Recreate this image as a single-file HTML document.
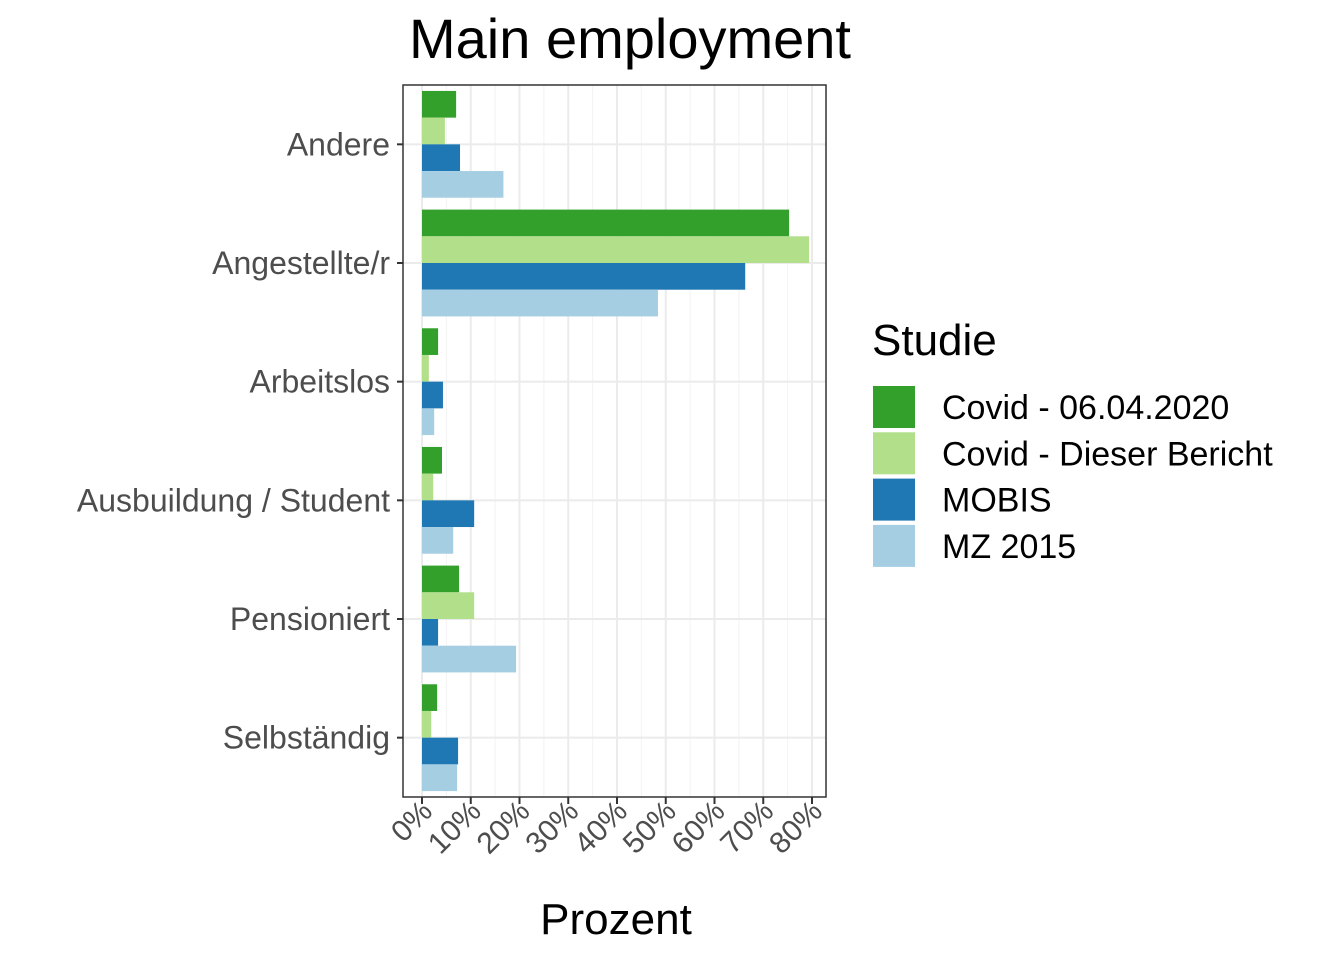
<!DOCTYPE html>
<html><head><meta charset="utf-8"><style>
body{margin:0;background:#fff;}
svg{display:block;font-family:"Liberation Sans",sans-serif;}
</style></head><body>
<svg id="c" width="1344" height="960">
<text x="630" y="58" font-size="56" text-anchor="middle" fill="#000">Main employment</text>
<g id="plot"></g>
<text x="616" y="934" font-size="44" text-anchor="middle" fill="#000">Prozent</text>
<g id="legend">
<text x="872" y="355" font-size="44" fill="#000">Studie</text>
</g>
</svg>
<script>
const categories=["Andere","Angestellte/r","Arbeitslos","Ausbuildung / Student","Pensioniert","Selbständig"];
const seriesNames=["Covid - 06.04.2020","Covid - Dieser Bericht","MOBIS","MZ 2015"];
const covid0604=[7.0,75.3,3.3,4.1,7.6,3.1];
const covidBericht=[4.7,79.4,1.4,2.3,10.7,1.9];
const mobis=[7.8,66.3,4.3,10.7,3.3,7.4];
const mz2015=[16.7,48.4,2.5,6.4,19.3,7.2];
const xTicks=[0,10,20,30,40,50,60,70,80];
const xTickLabels=["0%","10%","20%","30%","40%","50%","60%","70%","80%"];
const colors=["#33a02c","#b2df8a","#1f78b4","#a6cee3"];
const series=[covid0604,covidBericht,mobis,mz2015];
const NS="http://www.w3.org/2000/svg";
const P={l:403,r:826,t:85,b:797};
const x=v=>422+v*(812-422)/80;
const band=(P.b-P.t)/categories.length;
const yc=i=>P.t+band*(i+0.5);
const g=document.getElementById('plot');
function mk(tag,a,parent){const e=document.createElementNS(NS,tag);for(const k in a)e.setAttribute(k,a[k]);(parent||g).appendChild(e);return e;}
let e=mk('rect',{x:P.l,y:P.t,width:P.r-P.l,height:P.b-P.t,fill:'#fff'});


for(let v=5;v<=85;v+=10){if(x(v)<P.r){e=mk('line',{x1:x(v),x2:x(v),y1:P.t,y2:P.b,stroke:'#f2f2f2','stroke-width':1});

}}
xTicks.forEach(v=>{e=mk('line',{x1:x(v),x2:x(v),y1:P.t,y2:P.b,stroke:'#ebebeb','stroke-width':2});

});
categories.forEach((c,i)=>{e=mk('line',{x1:P.l,x2:P.r,y1:yc(i),y2:yc(i),stroke:'#ebebeb','stroke-width':2});

});
const bw=band*0.9/4;
categories.forEach((c,i)=>{
 series.forEach((s,j)=>{
  e=mk('rect',{x:x(0),y:yc(i)-band*0.45+j*bw,width:x(s[i])-x(0),height:bw,fill:colors[j]});
  
  
 });
 e=mk('line',{x1:P.l-6,x2:P.l,y1:yc(i),y2:yc(i),stroke:'#333','stroke-width':2});
 
 
 e=mk('text',{x:P.l-13,y:yc(i)+11,'font-size':32,'text-anchor':'end',fill:'#4d4d4d'});
 e.textContent=c;
 
 
});
e=mk('rect',{x:P.l,y:P.t,width:P.r-P.l,height:P.b-P.t,fill:'none',stroke:'#333','stroke-width':1.5});


xTicks.forEach((v,i)=>{
 e=mk('line',{x1:x(v),x2:x(v),y1:P.b,y2:P.b+7,stroke:'#333','stroke-width':2});
 
 
 e=mk('text',{x:0,y:0,'font-size':30,'text-anchor':'end',fill:'#4d4d4d',transform:`translate(${x(v)+12},${P.b+16}) rotate(-45)`});
 e.textContent=xTickLabels[i];
 
 
});
const L=document.getElementById('legend');
seriesNames.forEach((n,j)=>{
 e=mk('rect',{x:873,y:386+j*46.3,width:42,height:42,fill:colors[j]},L);
 
 
 e=mk('text',{x:942,y:419+j*46.3,'font-size':34,fill:'#000'},L);
 e.textContent=n;
 
 
});
</script>
</body></html>
